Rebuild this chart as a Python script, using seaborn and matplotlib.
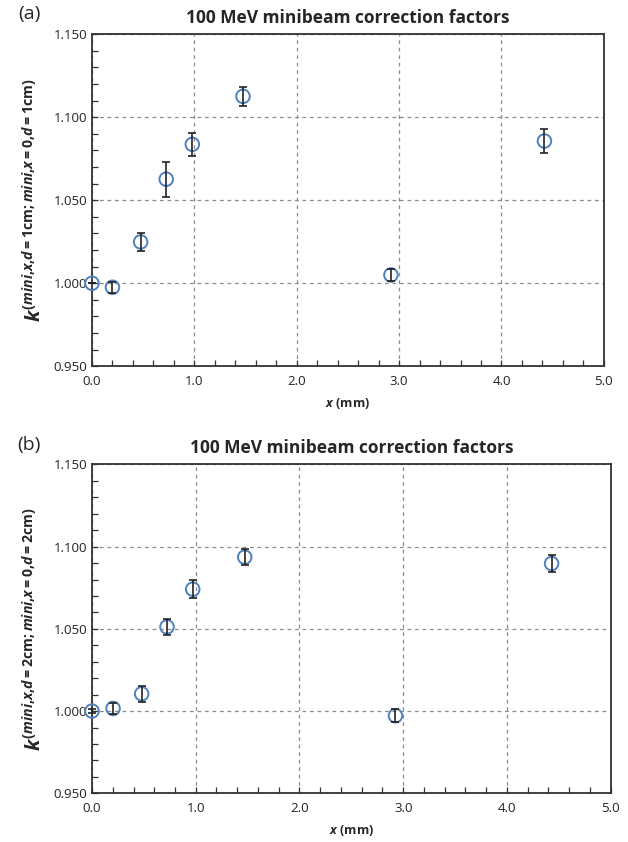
import matplotlib
matplotlib.use("Agg")
import matplotlib.pyplot as plt
import seaborn as sns
import pandas as pd
from matplotlib.ticker import MultipleLocator, FormatStrFormatter

# Data
x_a = [0.0, 0.20, 0.475, 0.725, 0.98, 1.475, 2.92, 4.42]
k_a = [1.000, 0.9976, 1.0249, 1.0627, 1.0837, 1.1126, 1.0050, 1.0857]
err_a = [0.0, 0.0033, 0.0052, 0.0106, 0.0071, 0.0058, 0.0034, 0.0075]

x_b = [0.0, 0.203, 0.479, 0.723, 0.971, 1.472, 2.925, 4.43]
k_b = [1.000, 1.0016, 1.0105, 1.0512, 1.0741, 1.0936, 0.9972, 1.0897]
err_b = [0.001, 0.0031, 0.0048, 0.0048, 0.0054, 0.0048, 0.0040, 0.0053]

title = "100 MeV minibeam correction factors"
panel_labels = ["(a)", "(b)"]
ylabels = [r"$k^{(mini{,}x{,}d\mathrm{{=}1cm{;}}mini{,}x\mathrm{{=}0{,}}d\mathrm{{=}1cm})}$",
           r"$k^{(mini{,}x{,}d\mathrm{{=}2cm{;}}mini{,}x\mathrm{{=}0{,}}d\mathrm{{=}2cm})}$"]
xlabel = r"$x$ (mm)"

sns.set_theme(style="white")
plt.rcParams["font.family"] = ["Open Sans", "DejaVu Sans"]
plt.rcParams["mathtext.fontset"] = "custom"
plt.rcParams["mathtext.it"] = "Open Sans:italic:bold"
plt.rcParams["mathtext.rm"] = "Open Sans:bold"
plt.rcParams["mathtext.bf"] = "Open Sans:bold"

fig = plt.figure(figsize=(6.28, 8.42), dpi=100)
ax_a = fig.add_axes([0.1465, 0.565, 0.815, 0.3943])
ax_b = fig.add_axes([0.1465, 0.0578, 0.826, 0.3907])

blue = "#4f81bd"

for ax, xs, ks, es, ylab, pl in [(ax_a, x_a, k_a, err_a, ylabels[0], panel_labels[0]),
                                  (ax_b, x_b, k_b, err_b, ylabels[1], panel_labels[1])]:
    df = pd.DataFrame({"x": xs, "k": ks, "err": es})
    ax.errorbar(df["x"], df["k"], yerr=df["err"], fmt="none", ecolor="#222222",
                elinewidth=1.2, capsize=3.2, capthick=1.2, zorder=4, clip_on=False)
    sns.scatterplot(data=df, x="x", y="k", ax=ax, marker="o", s=95,
                    facecolor="none", edgecolor=blue, linewidth=1.4, zorder=3,
                    clip_on=False)
    ax.set_xlim(0, 5)
    ax.set_ylim(0.95, 1.15)
    ax.xaxis.set_major_locator(MultipleLocator(1.0))
    ax.xaxis.set_minor_locator(MultipleLocator(0.2))
    ax.yaxis.set_major_locator(MultipleLocator(0.05))
    ax.yaxis.set_minor_locator(MultipleLocator(0.01))
    ax.xaxis.set_major_formatter(FormatStrFormatter("%.1f"))
    ax.yaxis.set_major_formatter(FormatStrFormatter("%.3f"))
    ax.tick_params(axis="both", which="both", direction="in", color="#333333",
                   labelsize=9.5, labelcolor="#222222")
    ax.tick_params(axis="both", which="major", length=4, width=0.9)
    ax.tick_params(axis="both", which="minor", length=4, width=0.9)
    ax.tick_params(axis="both", which="both", top=False, right=False,
                   bottom=True, left=True)
    ax.tick_params(axis="x", pad=6)
    ax.grid(True, which="major", color="#8c8c8c", linestyle=(0, (3, 3)), linewidth=0.9)
    for s in ax.spines.values():
        s.set_visible(True)
        s.set_color("#333333")
        s.set_linewidth(1.3)
    ax.set_title(title, fontsize=12.5, fontweight="bold", pad=8)
    ax.set_ylabel(ylab, fontsize=14.5, labelpad=5)
    ax.set_xlabel(xlabel, fontsize=9, fontweight="bold", labelpad=6)
    ax.text(-0.145, 1.06, pl, transform=ax.transAxes, fontsize=14, ha="left", va="center")

fig.savefig("out.png", dpi=100)
